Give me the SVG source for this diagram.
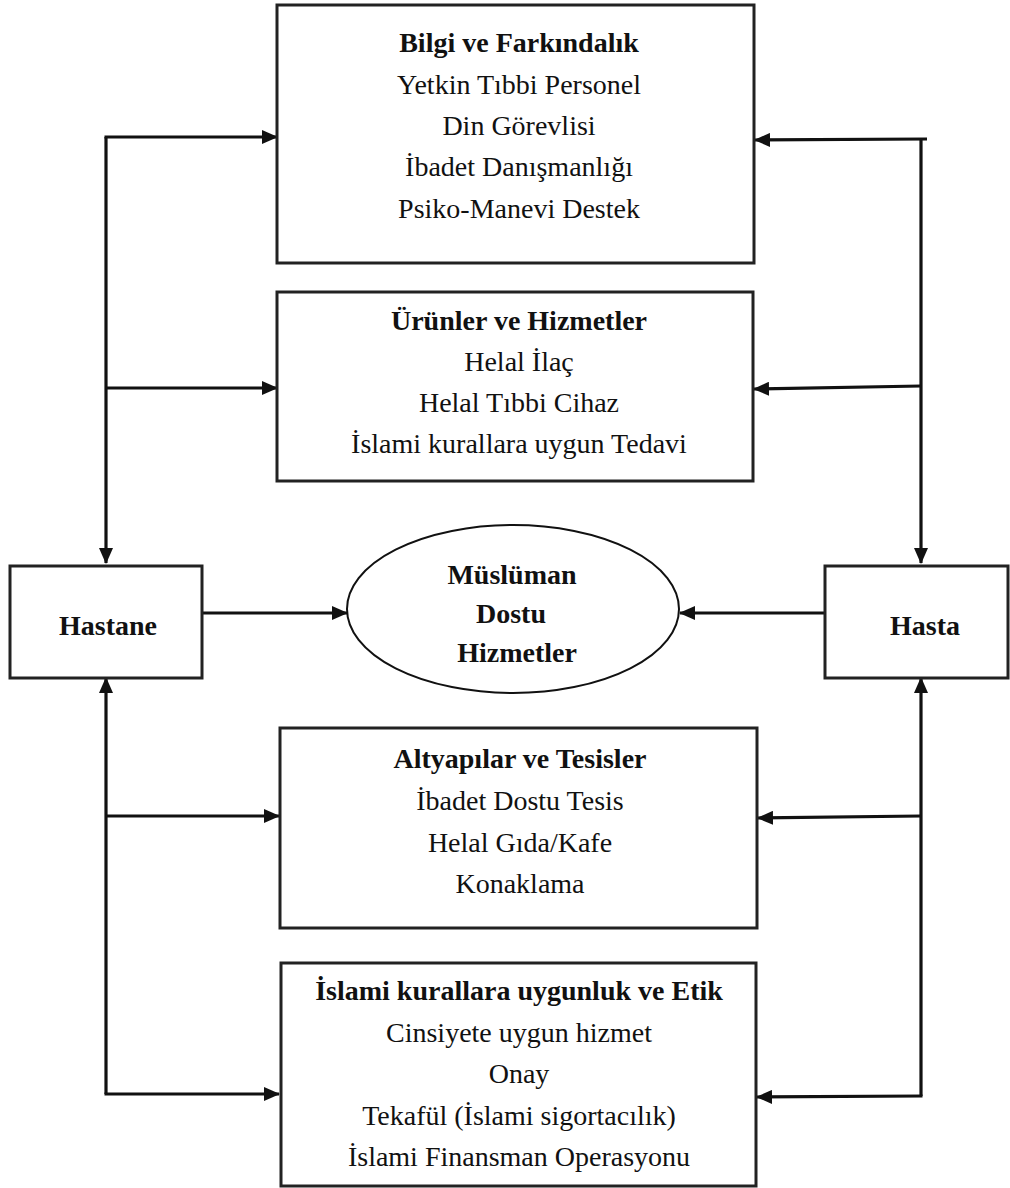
<svg xmlns="http://www.w3.org/2000/svg" width="1010" height="1188" viewBox="0 0 1010 1188">
<style>
.box{fill:#fff;stroke:#222;stroke-width:3}
.ell{fill:#fff;stroke:#111;stroke-width:2}
.t{font-family:"Liberation Serif","Times New Roman",serif;font-size:28px;fill:#111;text-anchor:middle}
.b{font-weight:bold}
.c{fill:none;stroke:#111;stroke-width:3.2}
</style>
<defs>
<marker id="ah" markerUnits="userSpaceOnUse" markerWidth="16" markerHeight="14" refX="15" refY="7" orient="auto">
<path d="M0,0 L16,7 L0,14 Z" fill="#111"/>
</marker>
</defs>
<rect width="1010" height="1188" fill="#fff"/>
<g id="connectors">
<path class="c" d="M106,137 L106,563" marker-end="url(#ah)"/>
<path class="c" d="M104.5,137 L277,137" marker-end="url(#ah)"/>
<path class="c" d="M106,388 L277,388" marker-end="url(#ah)"/>
<path class="c" d="M106,1094 L106,678" marker-end="url(#ah)"/>
<path class="c" d="M106,816 L279,816" marker-end="url(#ah)"/>
<path class="c" d="M104.5,1094 L279,1094" marker-end="url(#ah)"/>
<path class="c" d="M921,139 L921,563" marker-end="url(#ah)"/>
<path class="c" d="M927,139 L755,140" marker-end="url(#ah)"/>
<path class="c" d="M921,386 L754,389" marker-end="url(#ah)"/>
<path class="c" d="M921,1096 L921,678" marker-end="url(#ah)"/>
<path class="c" d="M921,816 L758,818" marker-end="url(#ah)"/>
<path class="c" d="M922.5,1096 L757,1097" marker-end="url(#ah)"/>
<path class="c" d="M202,613 L347,613" marker-end="url(#ah)"/>
<path class="c" d="M825,613 L680,613" marker-end="url(#ah)"/>
</g>
<g id="bilgi">
<rect class="box" x="277" y="5" width="477" height="258"/>
<text class="t b" x="519" y="52">Bilgi ve Farkındalık</text>
<text class="t" x="519" y="94">Yetkin Tıbbi Personel</text>
<text class="t" x="519" y="135">Din Görevlisi</text>
<text class="t" x="519" y="176">İbadet Danışmanlığı</text>
<text class="t" x="519" y="218">Psiko-Manevi Destek</text>
</g>
<g id="urunler">
<rect class="box" x="277" y="292" width="476" height="189"/>
<text class="t b" x="519" y="330">Ürünler ve Hizmetler</text>
<text class="t" x="519" y="371">Helal İlaç</text>
<text class="t" x="519" y="412">Helal Tıbbi Cihaz</text>
<text class="t" x="519" y="453">İslami kurallara uygun Tedavi</text>
</g>
<g id="hastane">
<rect class="box" x="10" y="566" width="192" height="112"/>
<text class="t b" x="108" y="635">Hastane</text>
</g>
<g id="mdh">
<ellipse class="ell" cx="513" cy="609" rx="166" ry="84"/>
<text class="t b" x="512" y="584">Müslüman</text>
<text class="t b" x="511" y="623">Dostu</text>
<text class="t b" x="517" y="662">Hizmetler</text>
</g>
<g id="hasta">
<rect class="box" x="825" y="566" width="183" height="112"/>
<text class="t b" x="925" y="635">Hasta</text>
</g>
<g id="altyapilar">
<rect class="box" x="280" y="728" width="477" height="200"/>
<text class="t b" x="520" y="768">Altyapılar ve Tesisler</text>
<text class="t" x="520" y="810">İbadet Dostu Tesis</text>
<text class="t" x="520" y="852">Helal Gıda/Kafe</text>
<text class="t" x="520" y="893">Konaklama</text>
</g>
<g id="etik">
<rect class="box" x="281" y="963" width="475" height="223"/>
<text class="t b" x="519" y="1000">İslami kurallara uygunluk ve Etik</text>
<text class="t" x="519" y="1042">Cinsiyete uygun hizmet</text>
<text class="t" x="519" y="1083">Onay</text>
<text class="t" x="519" y="1125">Tekafül (İslami sigortacılık)</text>
<text class="t" x="519" y="1166">İslami Finansman Operasyonu</text>
</g>
</svg>
